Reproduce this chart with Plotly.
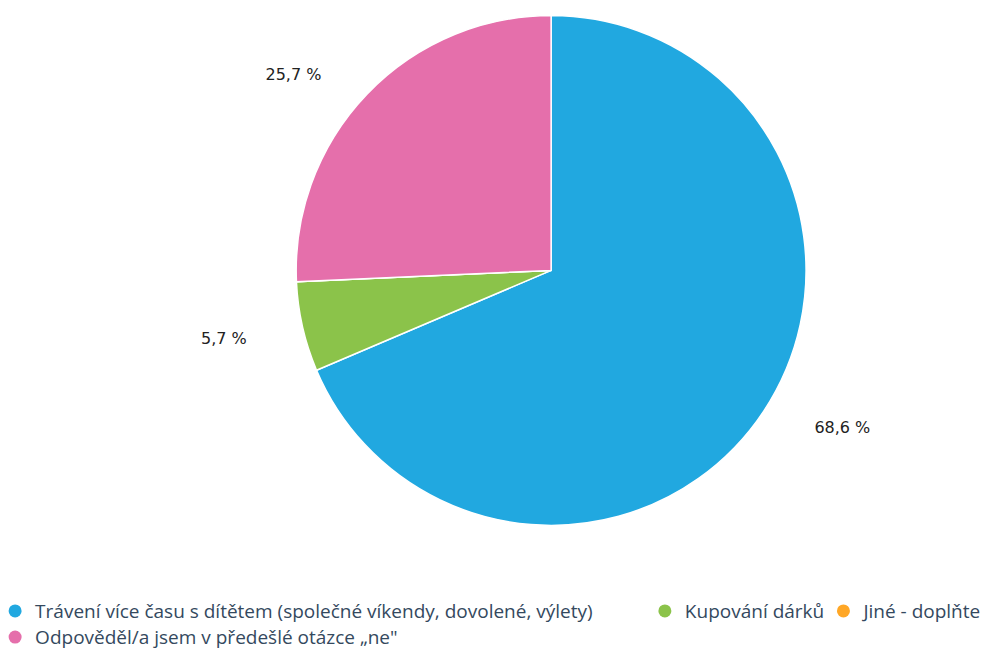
import plotly.graph_objects as go

categories = [
    "Trávení více času s dítětem (společné víkendy, dovolené, výlety)",
    "Kupování dárků",
    "Jiné - doplňte",
    "Odpověděl/a jsem v předešlé otázce „ne\"",
]
shares = [68.6, 5.7, 0.0, 25.7]
share_labels = ["68,6 %", "5,7 %", "", "25,7 %"]
colors = ["#21a8e0", "#8bc34a", "#ffa726", "#e56fab"]

# push the outside labels a bit away from the rim, like the original
NB = "\u00a0"
pad = [8, 9, 0, 7]
side = ["r", "l", "r", "l"]
extra_line = ["above", "above", "", "below"]
label_text = []
for t, p, s, e in zip(share_labels, pad, side, extra_line):
    if not t:
        label_text.append("")
        continue
    t = (NB * p + t) if s == "r" else (t + NB * p)
    if e == "above":
        t = NB + "<br>" + t
    elif e == "below":
        t = t + "<br>" + NB
    label_text.append(t)

fig = go.Figure()

fig.add_trace(
    go.Pie(
        labels=categories,
        values=shares,
        text=label_text,
        textinfo="text",
        textposition="outside",
        sort=False,
        direction="clockwise",
        rotation=0,
        marker=dict(colors=colors, line=dict(color="white", width=1.5)),
        textfont=dict(family="DejaVu Sans", size=16, color="#222222"),
        domain=dict(x=[0.290, 0.805], y=[0.2065, 0.9885]),
        showlegend=False,
        hoverinfo="label",
    )
)

# legend entries with round markers, one small legend per entry
legend_ids = ["legend", "legend2", "legend3", "legend4"]
for name, c, lg in zip(categories, colors, legend_ids):
    fig.add_trace(
        go.Scatter(
            x=[None],
            y=[None],
            mode="markers",
            name=name,
            legend=lg,
            marker=dict(color=c, size=13, symbol="circle"),
        )
    )

legend_font = dict(family="Open Sans", size=19, color="#34495e")
legend_pos = {
    "legend": (-0.013, 0.075),
    "legend2": (0.642, 0.075),
    "legend3": (0.822, 0.075),
    "legend4": (-0.013, 0.035),
}
legend_layout = {
    k: dict(
        x=x,
        y=y,
        xanchor="left",
        yanchor="middle",
        orientation="h",
        font=legend_font,
        bgcolor="rgba(0,0,0,0)",
        borderwidth=0,
    )
    for k, (x, y) in legend_pos.items()
}

fig.update_layout(
    width=992,
    height=652,
    margin=dict(l=0, r=0, t=0, b=0, autoexpand=False),
    paper_bgcolor="white",
    plot_bgcolor="white",
    xaxis=dict(visible=False),
    yaxis=dict(visible=False),
    **legend_layout,
)

fig.write_html("out.html")
